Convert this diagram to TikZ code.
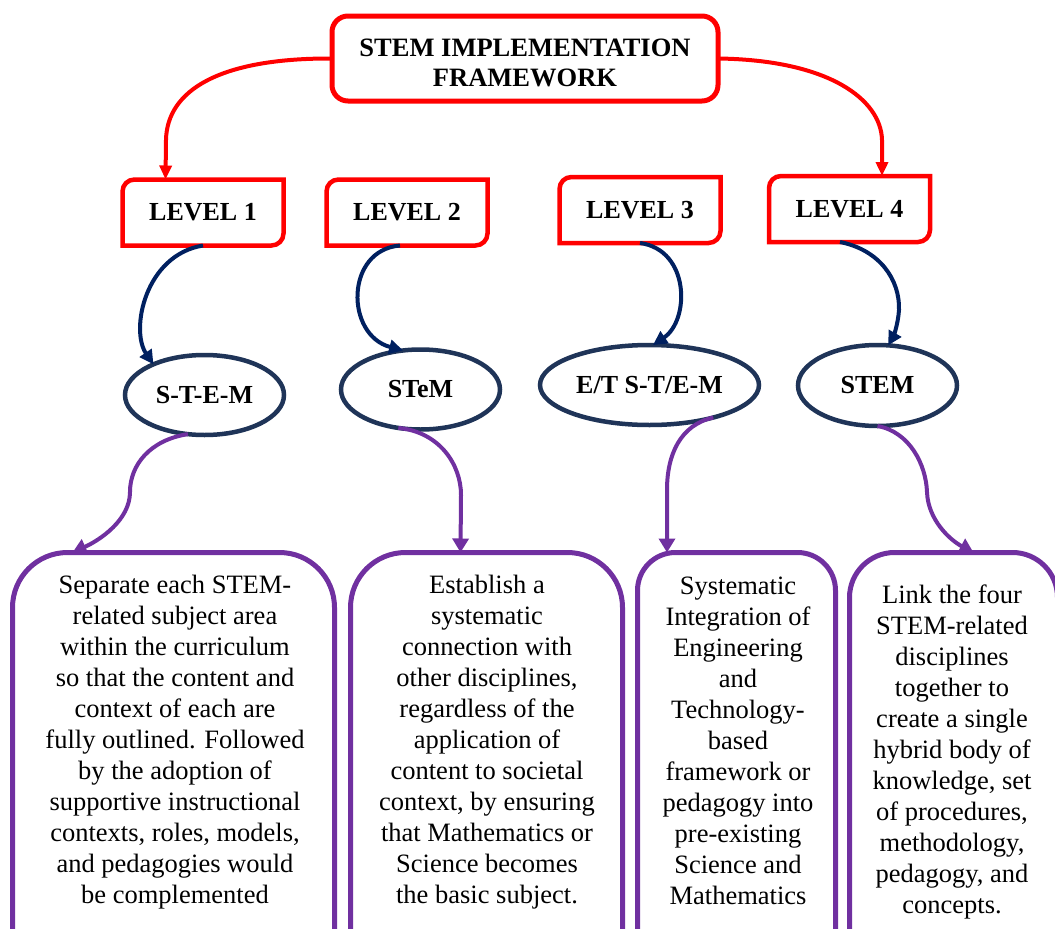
\documentclass[tikz,border=0pt]{standalone}
\usepackage{fontspec}
\setmainfont{Liberation Serif}
\usetikzlibrary{shapes.geometric,arrows.meta,calc}
\definecolor{myred}{HTML}{FF0000}
\definecolor{mynavy}{HTML}{002060}
\definecolor{myell}{HTML}{1F3458}
\definecolor{mypurple}{HTML}{7030A0}
\begin{document}
\begin{tikzpicture}[x=1pt,y=1pt,
 titlebox/.style={draw=myred, line width=5pt, rounded corners=16pt, minimum width=386pt, minimum height=85pt, inner sep=0pt, outer sep=0pt, align=center, font=\fontsize{26.5}{30}\selectfont\bfseries},
 lvlbox/.style={minimum width=161pt, minimum height=66pt, inner sep=0pt, outer sep=0pt, font=\fontsize{26}{30}\selectfont\bfseries},
 lvlline/.style={draw=myred, line width=4.5pt},
 ell/.style={ellipse, draw=myell, line width=4.5pt, inner sep=0pt, outer sep=0pt, minimum height=80pt, font=\fontsize{26}{30}\selectfont\bfseries},
 descbox/.style={draw=mypurple, line width=5pt, minimum height=500pt, inner sep=0pt, outer sep=0pt},
 desctext/.style={align=center, anchor=base, inner sep=0pt, font=\fontsize{26.5}{31}\selectfont},
 redarrow/.style={draw=myred, line width=4pt, -{Triangle[length=14pt,width=12pt]}},
 navyarrow/.style={draw=mynavy, line width=4pt, -{Triangle[length=14pt,width=14pt]}},
 purplearrow/.style={draw=mypurple, line width=4pt, -{Triangle[length=14pt,width=16pt]}},
]
\useasboundingbox (0,0) rectangle (1055,-929);
\clip (0,0) rectangle (1055,-929);

% title
\node[titlebox] (top) at (525,-58.5) {\rule{0pt}{27pt}STEM IMPLEMENTATION\\FRAMEWORK};

% levels
\node[lvlbox] (L1) at (203,-212.5) {LEVEL 1};
\node[lvlbox] (L2) at (407,-212.5) {LEVEL 2};
\node[lvlbox] (L3) at (640,-210) {LEVEL 3};
\node[lvlbox] (L4) at (849.5,-209) {LEVEL 4};
\foreach \n in {L1,L2,L3,L4}
  \draw[lvlline] (\n.south west) -- ($(\n.north west)+(0,-12)$)
     arc[start angle=180,end angle=90,radius=12pt] -- (\n.north east)
     -- ($(\n.south east)+(0,12)$) arc[start angle=0,end angle=-90,radius=12pt] -- cycle;

% ellipses
\node[ell, minimum width=159pt] (E1) at (204.5,-395) {S-T-E-M};
\node[ell, minimum width=159pt] (E2) at (420.5,-389.5) {STeM};
\node[ell, minimum width=219pt] (E3) at (649.5,-385) {E/T S-T/E-M};
\node[ell, minimum width=159pt, minimum height=81pt] (E4) at (877.5,-385.5) {STEM};

% description boxes
\node[descbox, rounded corners=55pt, minimum width=322pt] (B1) at (173.5,-802.5) {};
\node[descbox, rounded corners=55pt, minimum width=272pt] (B2) at (486.5,-802.5) {};
\node[descbox, rounded corners=38pt, minimum width=198pt] (B3) at (736.5,-802.5) {};
\node[descbox, rounded corners=45pt, minimum width=208pt] (B4) at (953.5,-802.5) {};

\node[desctext] (T1) at (175,-903) {Separate each STEM-\\related subject area\\within the curriculum\\so that the content and\\context of each are\\fully outlined. Followed\\by the adoption of\\supportive instructional\\contexts, roles, models,\\and pedagogies would\\be complemented};
\node[desctext] (T2) at (487,-903) {Establish a\\systematic\\connection with\\other disciplines,\\regardless of the\\application of\\content to societal\\context, by ensuring\\that Mathematics or\\Science becomes\\the basic subject.};
\node[desctext] (T3) at (738,-904) {Systematic\\Integration of\\Engineering\\and\\Technology-\\based\\framework or\\pedagogy into\\pre-existing\\Science and\\Mathematics};
\node[desctext] (T4) at (952,-913) {Link the four\\STEM-related\\disciplines\\together to\\create a single\\hybrid body of\\knowledge, set\\of procedures,\\methodology,\\pedagogy, and\\concepts.};

% red arrows
\draw[redarrow] (top.west) .. controls (220,-58) and (167,-90) .. (166,-140) -- ($(L1.north west)+(43,0)$);
\draw[redarrow] (top.east) .. controls (830,-60) and (881,-100) .. (882,-140) -- ($(L4.north west)+(113,0)$);

% navy arrows
\draw[navyarrow] (L1.south) .. controls (145,-255) and (130,-330) .. (E1.149);
\draw[navyarrow] ($(L2.south)+(-7,0)$) .. controls (345,-250) and (345,-335) .. (E2.114);
\draw[navyarrow] (L3.south) .. controls (690,-250) and (690,-320) .. (E3.85);
\draw[navyarrow] ($(L4.south)+(-9.5,0)$) .. controls (880,-250) and (900,-280) .. (899,-310) .. controls (898,-325) and (893,-337) .. (E4.75);

% purple arrows
\draw[purplearrow] (E1.247) .. controls (150,-440) and (130,-465) .. (130,-492) .. controls (130,-520) and (100,-540) .. ($(B1.north west)+(60,0)$);
\draw[purplearrow] (E2.240) .. controls (440,-432) and (461,-465) .. (461,-495) -- ($(B2.north west)+(110,0)$);
\draw[purplearrow] (E3.-27) .. controls (680,-425) and (667,-455) .. (667,-490) -- ($(B3.north west)+(29.5,0)$);
\draw[purplearrow] (E4.south) .. controls (910,-432) and (926,-465) .. (927,-492) .. controls (928,-520) and (950,-540) .. ($(B4.north west)+(124,0)$);
\end{tikzpicture}
\end{document}
